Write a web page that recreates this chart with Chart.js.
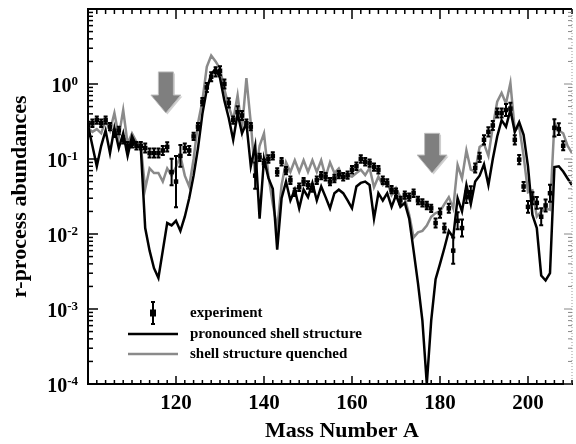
<!DOCTYPE html>
<html>
<head>
<meta charset="utf-8">
<script src="https://cdn.jsdelivr.net/npm/chart.js@4.4.0/dist/chart.umd.min.js"></script>
<style>
  html, body { margin: 0; padding: 0; background: #fff; }
  #wrap { width: 576px; height: 444px; }
</style>
</head>
<body>
<div id="wrap"><canvas id="abund" width="576" height="444"></canvas></div>
<script>
// mass numbers of the two model curves
const massNumbers = [100,101,102,103,104,105,106,107,108,109,110,111,112,113,114,115,116,117,118,119,
  120,121,122,123,124,125,126,127,128,129,130,131,132,133,134,135,136,137,138,139,
  140,141,142,143,144,145,146,147,148,149,150,151,152,153,154,155,156,157,158,159,
  160,161,162,163,164,165,166,167,168,169,170,171,172,173,174,175,176,177,178,179,
  180,181,182,183,184,185,186,187,188,189,190,191,192,193,194,195,196,197,198,199,
  200,201,202,203,204,205,206,207,208,209,210];

// "pronounced shell structure" (black)
const pronounced = [0.28,0.15,0.08,0.15,0.24,0.12,0.26,0.14,0.22,0.11,0.2,0.15,0.14,0.012,0.006,0.0035,0.0026,0.006,0.014,0.013,
  0.015,0.011,0.017,0.03,0.06,0.14,0.4,0.85,1.35,1.6,1.2,0.6,0.35,0.18,0.4,0.22,0.3,0.08,0.15,0.016,
  0.1,0.056,0.04,0.0062,0.03,0.05,0.028,0.039,0.022,0.039,0.031,0.048,0.028,0.043,0.031,0.022,0.035,0.039,0.035,0.028,
  0.022,0.043,0.048,0.05,0.045,0.016,0.035,0.028,0.035,0.023,0.033,0.023,0.026,0.016,0.006,0.0022,0.0007,0.0001,0.0007,0.0025,
  0.004,0.0065,0.011,0.009,0.03,0.02,0.045,0.025,0.05,0.06,0.085,0.045,0.1,0.2,0.33,0.27,0.45,0.23,0.31,0.21,
  0.08,0.018,0.012,0.0028,0.0024,0.003,0.078,0.08,0.068,0.055,0.045];

// "shell structure quenched" (grey)
const quenched = [0.26,0.23,0.25,0.22,0.33,0.24,0.41,0.2,0.45,0.16,0.22,0.17,0.15,0.04,0.075,0.065,0.065,0.05,0.075,0.06,
  0.078,0.11,0.06,0.043,0.1,0.3,0.6,1.7,2.4,2.0,1.6,0.85,0.5,0.33,0.71,0.25,1.2,0.3,0.06,0.15,
  0.22,0.06,0.025,0.012,0.045,0.09,0.067,0.096,0.067,0.096,0.067,0.096,0.067,0.096,0.058,0.09,0.065,0.075,0.055,0.06,
  0.058,0.065,0.072,0.061,0.076,0.042,0.058,0.045,0.05,0.033,0.041,0.031,0.03,0.018,0.009,0.0105,0.011,0.013,0.017,0.019,
  0.02,0.025,0.031,0.022,0.083,0.055,0.13,0.072,0.068,0.145,0.16,0.11,0.27,0.58,0.76,0.55,1.03,0.24,0.27,0.11,
  0.036,0.038,0.017,0.02,0.022,0.021,0.3,0.24,0.22,0.15,0.12];

// measured solar r-process abundances
const expMass = [100,101,102,103,104,105,106,107,108,109,110,111,112,113,114,115,116,117,118,119,
  120,121,122,123,124,125,126,127,128,129,130,131,132,133,134,135,136,137,138,139,
  140,141,142,143,144,145,146,147,148,149,150,151,152,153,154,155,156,157,158,159,
  160,161,162,163,164,165,166,167,168,169,170,171,172,173,174,175,176,177,178,179,
  180,181,182,183,184,185,186,187,188,189,190,191,192,193,194,195,196,197,198,199,
  200,201,202,203,204,205,206,207,208];
const expAbund = [0.28,0.3,0.33,0.3,0.33,0.27,0.22,0.24,0.18,0.15,0.16,0.15,0.15,0.14,0.12,0.12,0.12,0.13,0.145,0.067,
  0.05,0.11,0.14,0.13,0.2,0.27,0.58,0.9,1.25,1.45,1.5,1.0,0.56,0.33,0.42,0.38,0.3,0.27,0.06,0.105,
  0.088,0.1,0.11,0.067,0.092,0.07,0.052,0.036,0.042,0.05,0.045,0.041,0.052,0.06,0.058,0.05,0.055,0.062,0.058,0.061,
  0.072,0.08,0.1,0.092,0.088,0.078,0.072,0.052,0.048,0.039,0.036,0.028,0.033,0.031,0.035,0.028,0.026,0.024,0.022,0.014,
  0.019,0.012,0.022,0.006,0.015,0.012,0.031,0.036,0.076,0.105,0.18,0.23,0.28,0.41,0.41,0.45,0.47,0.18,0.098,0.043,
  0.023,0.03,0.026,0.017,0.024,0.035,0.26,0.25,0.15];
// relative error (bar spans v/(1+e) .. v*(1+e))
const expErr = [0.12,0.12,0.12,0.12,0.12,0.12,0.12,0.12,0.12,0.12,0.12,0.12,0.12,0.15,0.15,0.15,0.15,0.15,0.15,0.5,
  1.2,0.4,0.15,0.15,0.12,0.12,0.12,0.15,0.15,0.15,0.15,0.15,0.15,0.12,0.2,0.15,0.12,0.12,0.5,0.12,
  0.12,0.12,0.12,0.12,0.12,0.12,0.12,0.12,0.12,0.12,0.12,0.12,0.12,0.12,0.12,0.12,0.12,0.12,0.12,0.12,
  0.12,0.12,0.12,0.12,0.12,0.12,0.12,0.12,0.12,0.12,0.12,0.12,0.12,0.12,0.12,0.12,0.12,0.12,0.12,0.15,
  0.15,0.15,0.15,0.5,0.3,0.3,0.2,0.2,0.15,0.15,0.15,0.15,0.15,0.15,0.15,0.2,0.2,0.15,0.15,0.15,
  0.2,0.2,0.2,0.3,0.2,0.3,0.3,0.2,0.15];

const xTickLabels = [120, 140, 160, 180, 200];
const yTickPowers = [0, -1, -2, -3, -4];

// the two grey arrows (mass number, top and tip abundance)
const arrowMass = [117.7, 178.2];
const arrowTop = [1.45, 0.22];
const arrowTip = [0.41, 0.065];

const serif = '"Liberation Serif", "DejaVu Serif", serif';

const pts = (xs, ys) => xs.map((x, i) => ({x: x, y: ys[i]}));

const decor = {
    id: 'decor',
    afterDatasetsDraw(chart) {
        const ctx = chart.ctx;
        const xs = chart.scales.x, ys = chart.scales.y;
        const area = chart.chartArea;

        // error bars
        ctx.save();
        ctx.beginPath();
        ctx.rect(area.left, area.top, area.right - area.left, area.bottom - area.top);
        ctx.clip();
        ctx.strokeStyle = '#000';
        ctx.lineWidth = 2;
        expMass.forEach((m, i) => {
            var e = expErr[i];
            var px = xs.getPixelForValue(m);
            var y1 = ys.getPixelForValue(expAbund[i] * (1 + e));
            var y2 = ys.getPixelForValue(expAbund[i] / (1 + e));
            ctx.beginPath();
            ctx.moveTo(px, y1); ctx.lineTo(px, y2);
            ctx.moveTo(px - 2, y1); ctx.lineTo(px + 2, y1);
            ctx.moveTo(px - 2, y2); ctx.lineTo(px + 2, y2);
            ctx.stroke();
        });

        // arrows
        arrowMass.forEach((m, i) => {
            var cx = xs.getPixelForValue(m);
            var top = ys.getPixelForValue(arrowTop[i]);
            var tip = ys.getPixelForValue(arrowTip[i]);
            var neck = tip - 18;
            var shape = (dx, dy) => {
                ctx.beginPath();
                ctx.moveTo(cx - 7.5 + dx, top + dy);
                ctx.lineTo(cx + 7.5 + dx, top + dy);
                ctx.lineTo(cx + 7.5 + dx, neck + dy);
                ctx.lineTo(cx + 15 + dx, neck + dy);
                ctx.lineTo(cx + dx, tip + dy);
                ctx.lineTo(cx - 15 + dx, neck + dy);
                ctx.lineTo(cx - 7.5 + dx, neck + dy);
                ctx.closePath();
            };
            shape(1.5, 1.5);
            ctx.fillStyle = '#d0d0d0';
            ctx.fill();
            shape(0, 0);
            ctx.fillStyle = '#7f7f7f';
            ctx.fill();
            ctx.strokeStyle = '#bdbdbd';
            ctx.lineWidth = 1;
            ctx.stroke();
        });
        ctx.restore();
    },
    afterDraw(chart) {
        const ctx = chart.ctx;
        const xs = chart.scales.x, ys = chart.scales.y;
        const a = chart.chartArea;
        ctx.save();

        // frame top + right
        ctx.strokeStyle = '#000';
        ctx.lineWidth = 2;
        ctx.beginPath();
        ctx.moveTo(a.left, a.top); ctx.lineTo(a.right, a.top);
        ctx.stroke();
        ctx.strokeStyle = '#999';
        ctx.lineWidth = 1;
        ctx.setLineDash([1, 2]);
        ctx.beginPath();
        ctx.moveTo(a.right, a.top); ctx.lineTo(a.right, a.bottom);
        ctx.stroke();
        ctx.setLineDash([]);

        // x ticks, inward, bottom and top
        ctx.strokeStyle = '#000';
        ctx.lineWidth = 1.5;
        for (var v = 100; v <= 210; v += 2) {
            var px = xs.getPixelForValue(v);
            var major = v % 20 === 0;
            ctx.beginPath();
            ctx.moveTo(px, a.bottom); ctx.lineTo(px, a.bottom - (major ? 8 : 4));
            ctx.moveTo(px, a.top); ctx.lineTo(px, a.top + (major ? 10 : 5));
            ctx.stroke();
        }

        // y ticks, log decades
        for (var p = -4; p <= 0; p++) {
            for (var k = 1; k <= 9; k++) {
                var py = ys.getPixelForValue(k * Math.pow(10, p));
                ctx.strokeStyle = '#000';
                ctx.lineWidth = 1.5;
                ctx.beginPath();
                ctx.moveTo(a.left, py); ctx.lineTo(a.left + (k === 1 ? 10 : 5), py);
                ctx.stroke();
                ctx.strokeStyle = '#888';
                ctx.lineWidth = 1;
                ctx.beginPath();
                ctx.moveTo(a.right, py); ctx.lineTo(a.right - (k === 1 ? 8 : 4), py);
                ctx.stroke();
            }
        }

        // y tick labels 10^n
        ctx.fillStyle = '#000';
        ctx.textBaseline = 'alphabetic';
        yTickPowers.forEach(p => {
            var py = ys.getPixelForValue(Math.pow(10, p));
            ctx.font = 'bold 13px ' + serif;
            var ex = String(p);
            var ew = ctx.measureText(ex).width;
            ctx.textAlign = 'left';
            ctx.fillText(ex, 78 - ew, py + 1);
            ctx.font = 'bold 20px ' + serif;
            ctx.textAlign = 'right';
            ctx.fillText('10', 78 - ew, py + 8);
        });

        // x axis title, sits a bit right of centre as in the original
        ctx.font = 'bold 22px ' + serif;
        ctx.textAlign = 'center';
        ctx.textBaseline = 'alphabetic';
        ctx.fillText('Mass Number A', (a.left + a.right) / 2 + 12, 437);

        // legend
        ctx.font = 'bold 15px ' + serif;
        ctx.textAlign = 'left';
        ctx.textBaseline = 'middle';
        ctx.strokeStyle = '#000';
        ctx.lineWidth = 2;
        ctx.beginPath();
        ctx.moveTo(153, 302); ctx.lineTo(153, 324);
        ctx.moveTo(151, 302); ctx.lineTo(155, 302);
        ctx.moveTo(151, 324); ctx.lineTo(155, 324);
        ctx.stroke();
        ctx.fillRect(150, 309.5, 6, 7);
        ctx.fillText('experiment', 190, 313);

        ctx.lineWidth = 2.5;
        ctx.beginPath();
        ctx.moveTo(128, 334); ctx.lineTo(178, 334);
        ctx.stroke();
        ctx.fillText('pronounced shell structure', 190, 334);

        ctx.strokeStyle = '#8a8a8a';
        ctx.beginPath();
        ctx.moveTo(128, 354); ctx.lineTo(178, 354);
        ctx.stroke();
        ctx.fillText('shell structure quenched', 190, 354);

        ctx.restore();
    }
};

new Chart('abund', {
    type: 'line',
    data: {
        datasets: [{
            label: 'experiment',
            data: pts(expMass, expAbund),
            showLine: false,
            pointStyle: 'rect',
            pointRadius: 3.2,
            backgroundColor: '#000',
            borderColor: '#000',
            borderWidth: 0,
            order: 0
        },
        {
            label: 'pronounced shell structure',
            data: pts(massNumbers, pronounced),
            borderColor: '#000',
            borderWidth: 2.5,
            pointRadius: 0,
            tension: 0,
            fill: false,
            order: 1
        },
        {
            label: 'shell structure quenched',
            data: pts(massNumbers, quenched),
            borderColor: '#8a8a8a',
            borderWidth: 2.5,
            pointRadius: 0,
            tension: 0,
            fill: false,
            order: 2
        }]
    },
    options: {
        responsive: false,
        animation: false,
        devicePixelRatio: 1,
        layout: {padding: {top: 9, right: 3, left: 0, bottom: 0}},
        plugins: {legend: {display: false}, tooltip: {enabled: false}},
        scales: {
            x: {
                type: 'linear', min: 100, max: 210,
                grid: {display: false, drawTicks: false, tickLength: 0},
                border: {display: true, color: '#000', width: 2},
                afterBuildTicks: s => { s.ticks = xTickLabels.map(v => ({value: v})); },
                ticks: {
                    color: '#000', padding: 7, maxRotation: 0,
                    font: {family: serif, size: 21, weight: 'bold'}
                },
                afterFit: s => { s.height = 60; }
            },
            y: {
                type: 'logarithmic', min: 1e-4, max: 10,
                grid: {display: false, drawTicks: false, tickLength: 0},
                border: {display: true, color: '#000', width: 2},
                ticks: {display: false},
                title: {
                    display: true, text: 'r-process abundances', color: '#000',
                    font: {family: serif, size: 22, weight: 'bold'},
                    padding: {top: 7, bottom: 0}
                },
                afterFit: s => { s.width = 88; }
            }
        }
    },
    plugins: [decor]
});
</script>
</body>
</html>
